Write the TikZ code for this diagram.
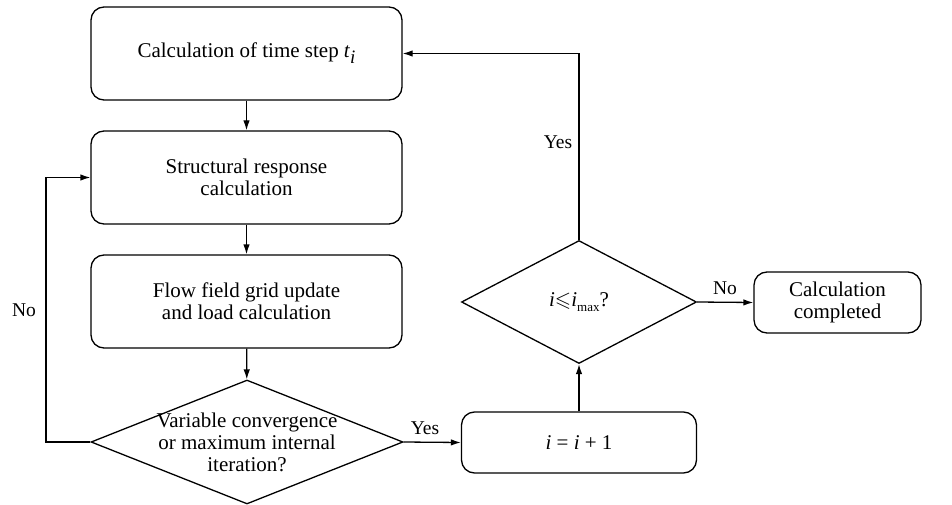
\documentclass[tikz,border=0pt]{standalone}
\usepackage{amssymb}
\usepackage{fontspec}
\setmainfont{Liberation Serif}
\usetikzlibrary{shapes.geometric,arrows.meta}
\begin{document}
\begin{tikzpicture}[x=1pt,y=-1pt,
  txt/.style={font=\fontsize{21}{22}\selectfont},
  box/.style={draw, rounded corners=13pt, line width=1.3pt, align=center, inner sep=0pt, txt},
  dia/.style={draw, diamond, line width=1.3pt, inner sep=0pt, align=center, txt},
  arr/.style={-{Latex[length=10pt,width=6.5pt]}, line width=1.3pt},
  lab/.style={font=\fontsize{19.5}{20}\selectfont, inner sep=0pt}]
\useasboundingbox (0,0) rectangle (952,505);

\node[box, minimum width=311pt, minimum height=93pt] (b1) at (246.5,53.5)
  {Calculation of time step \textit{t}\raisebox{-6pt}{\fontsize{19}{19}\selectfont\textit{i}}};
\node[box, minimum width=311pt, minimum height=93pt] (b2) at (246.5,177.5)
  {Structural response\\calculation};
\node[box, minimum width=311pt, minimum height=93pt] (b3) at (246.5,301.5)
  {Flow field grid update\\and load calculation};
\node[dia, minimum width=312pt, minimum height=124pt,
  label={[align=center, txt]center:{Variable convergence\\or maximum internal\\iteration?}}] (d1) at (247,442) {};
\node[box, minimum width=235pt, minimum height=61pt] (inc) at (579,442.5)
  {\textit{i} = \textit{i} + 1};
\node[dia, minimum width=235pt, minimum height=123pt] (d2) at (579,302)
  {\textit{i}$\leqslant$\textit{i}\raisebox{-5pt}{\fontsize{13}{13}\selectfont max}?};
\node[box, minimum width=167pt, minimum height=61pt] (done) at (837.5,302.5)
  {Calculation\\completed};

\coordinate (nl) at (46,442);
\draw[arr] (b1) -- (b2);
\draw[arr] (b2) -- (b3);
\draw[arr] (b3) -- (d1);
\draw[arr] (d1.west) -- (nl) |- (b2.west);
\draw[arr] (d1.east) -- (inc.west);
\draw[arr] (inc) -- (d2);
\draw[arr] (d2.east) -- (done.west);
\draw[arr] (d2.north) |- (b1.east);

\node[lab] (no1) at (24,310) {No};
\node[lab] (yes1) at (425,428) {Yes};
\node[lab] (no2) at (725,288) {No};
\node[lab] (yes2) at (558,142) {Yes};
\end{tikzpicture}
\end{document}
